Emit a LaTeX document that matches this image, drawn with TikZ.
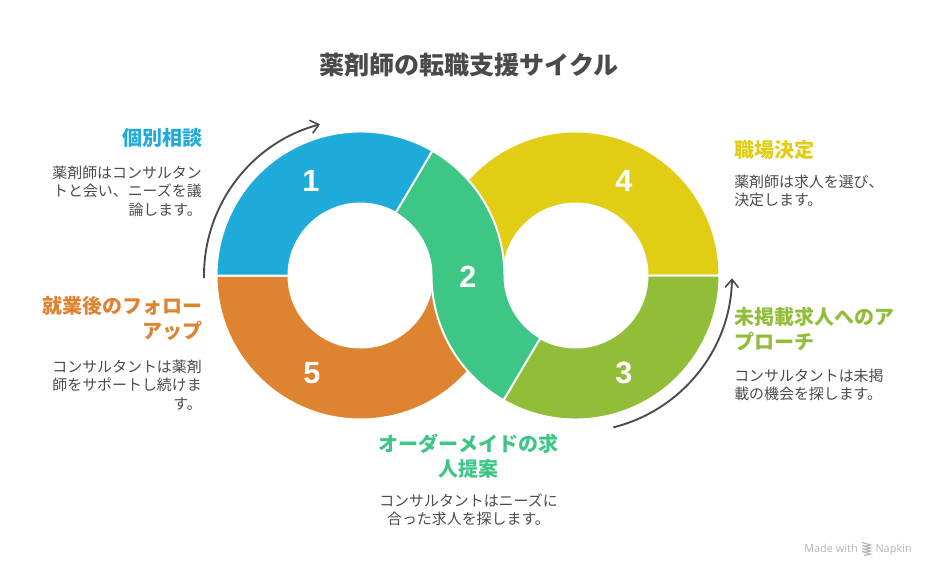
\documentclass[tikz,border=0pt]{standalone}
\usepackage{fontspec}
\setmainfont{Noto Sans CJK JP}
\newfontfamily\numfont{Liberation Sans}
\newfontfamily\brandfont{Open Sans}
\usetikzlibrary{arrows.meta}
\definecolor{cblue}{HTML}{1EABDA}
\definecolor{corange}{HTML}{DE8431}
\definecolor{cgreen}{HTML}{3EC687}
\definecolor{cyellow}{HTML}{E0CD14}
\definecolor{clime}{HTML}{92BD39}
\definecolor{ctext}{HTML}{4A4A4A}
\definecolor{cbrand}{HTML}{B4B4B4}
\tikzset{
 x=0.75pt,y=0.75pt,
 seg/.style={draw=white,line width=1.5pt,line join=round},
 cyc/.style={draw=ctext,line width=1.4pt,-{Straight Barb[length=6pt,width=10pt,line width=1.2pt]}},
 num/.style={text=white,font=\numfont\fontsize{23pt}{23pt}\selectfont\bfseries,inner sep=0pt},
 head/.style={font=\fontsize{15pt}{18.75pt}\selectfont\bfseries,inner sep=0pt},
 body/.style={text=ctext,font=\fontsize{11.2pt}{13.6pt}\selectfont,inner sep=0pt},
 brand/.style={text=cbrand,inner sep=0pt,font=\brandfont\fontsize{8.2pt}{9pt}\selectfont},
}
\begin{document}
\begin{tikzpicture}
\useasboundingbox (0,0) rectangle (936,576);
\coordinate (L) at (360.5,300.5);
\coordinate (R) at (575.5,300.5);
\def\ro{144}\def\ri{72}
% yellow
\fill[cyellow,seg] ([shift={(0:\ro)}]R) arc[start angle=0,end angle=180,radius=\ro] -- ([shift={(180:\ri)}]R) arc[start angle=180,end angle=0,radius=\ri] -- cycle;
% lime
\fill[clime,seg] ([shift={(240:\ro)}]R) arc[start angle=240,end angle=360,radius=\ro] -- ([shift={(0:\ri)}]R) arc[start angle=360,end angle=240,radius=\ri] -- cycle;
% orange
\fill[corange,seg] ([shift={(180:\ro)}]L) arc[start angle=180,end angle=360,radius=\ro] -- ([shift={(0:\ri)}]L) arc[start angle=360,end angle=180,radius=\ri] -- cycle;
% blue
\fill[cblue,seg] ([shift={(60:\ro)}]L) arc[start angle=60,end angle=180,radius=\ro] -- ([shift={(180:\ri)}]L) arc[start angle=180,end angle=60,radius=\ri] -- cycle;
% green
\fill[cgreen,seg] ([shift={(60:\ro)}]L) arc[start angle=60,end angle=0,radius=\ro]
  arc[start angle=180,end angle=240,radius=\ri] -- ([shift={(240:\ro)}]R)
  arc[start angle=240,end angle=180,radius=\ro]
  arc[start angle=0,end angle=60,radius=\ri] -- cycle;
% cycle arrows
\coordinate (a1) at ([shift={(181:156.5)}]L);
\coordinate (a2) at ([shift={(-76:156.5)}]R);
\draw[cyc] (a1) arc[start angle=181,end angle=105,radius=156.5];
\draw[cyc] (a2) arc[start angle=-76,end angle=-1,radius=156.5];
% numbers
\node[num] (n1) at (311,395) {1};
\node[num] (n2) at (468,299) {2};
\node[num] (n3) at (624,203) {3};
\node[num] (n4) at (624,395) {4};
\node[num] (n5) at (312,203) {5};
% title
\node[text=ctext,inner sep=0pt,font=\fontsize{18.8pt}{22pt}\selectfont\bfseries] (title) at (469,511) {薬剤師の転職支援サイクル};
% texts
\node[head,text=cblue,anchor=east,align=right] (h1) at (203,438) {個別相談};
\node[body,anchor=north east,align=right] (b1) at (202,410) {薬剤師はコンサルタン\\トと会い、ニーズを議\\論します。};
\node[head,text=corange,anchor=east,align=right] (h5) at (203,258) {就業後のフォロー\\アップ};
\node[body,anchor=north east,align=right] (b5) at (202,216) {コンサルタントは薬剤\\師をサポートし続けま\\す。};
\node[head,text=cgreen,align=center] (h2) at (468.5,120) {オーダーメイドの求\\人提案};
\node[body,align=center] (b2) at (468.5,66) {コンサルタントはニーズに\\合った求人を探します。};
\node[head,text=cyellow,anchor=west,align=left] (h4) at (734,426) {職場決定};
\node[body,anchor=north west,align=left] (b4) at (734,401) {薬剤師は求人を選び、\\決定します。};
\node[head,text=clime,anchor=west,align=left] (h3) at (734,247) {未掲載求人へのア\\プローチ};
\node[body,anchor=north west,align=left] (b3) at (734,207) {コンサルタントは未掲\\載の機会を探します。};
\node[brand,anchor=base west] (made) at (804,24) {Made with};
\node[brand,anchor=base east] (napkin) at (912,24) {Napkin};
\foreach \dy in {4,1,-2,-5}
  \draw[cbrand,line width=0.9pt] (862,28+\dy+1.5) -- (870.5,28+\dy-1) -- (864,28+\dy-2.5);
\end{tikzpicture}
\end{document}
